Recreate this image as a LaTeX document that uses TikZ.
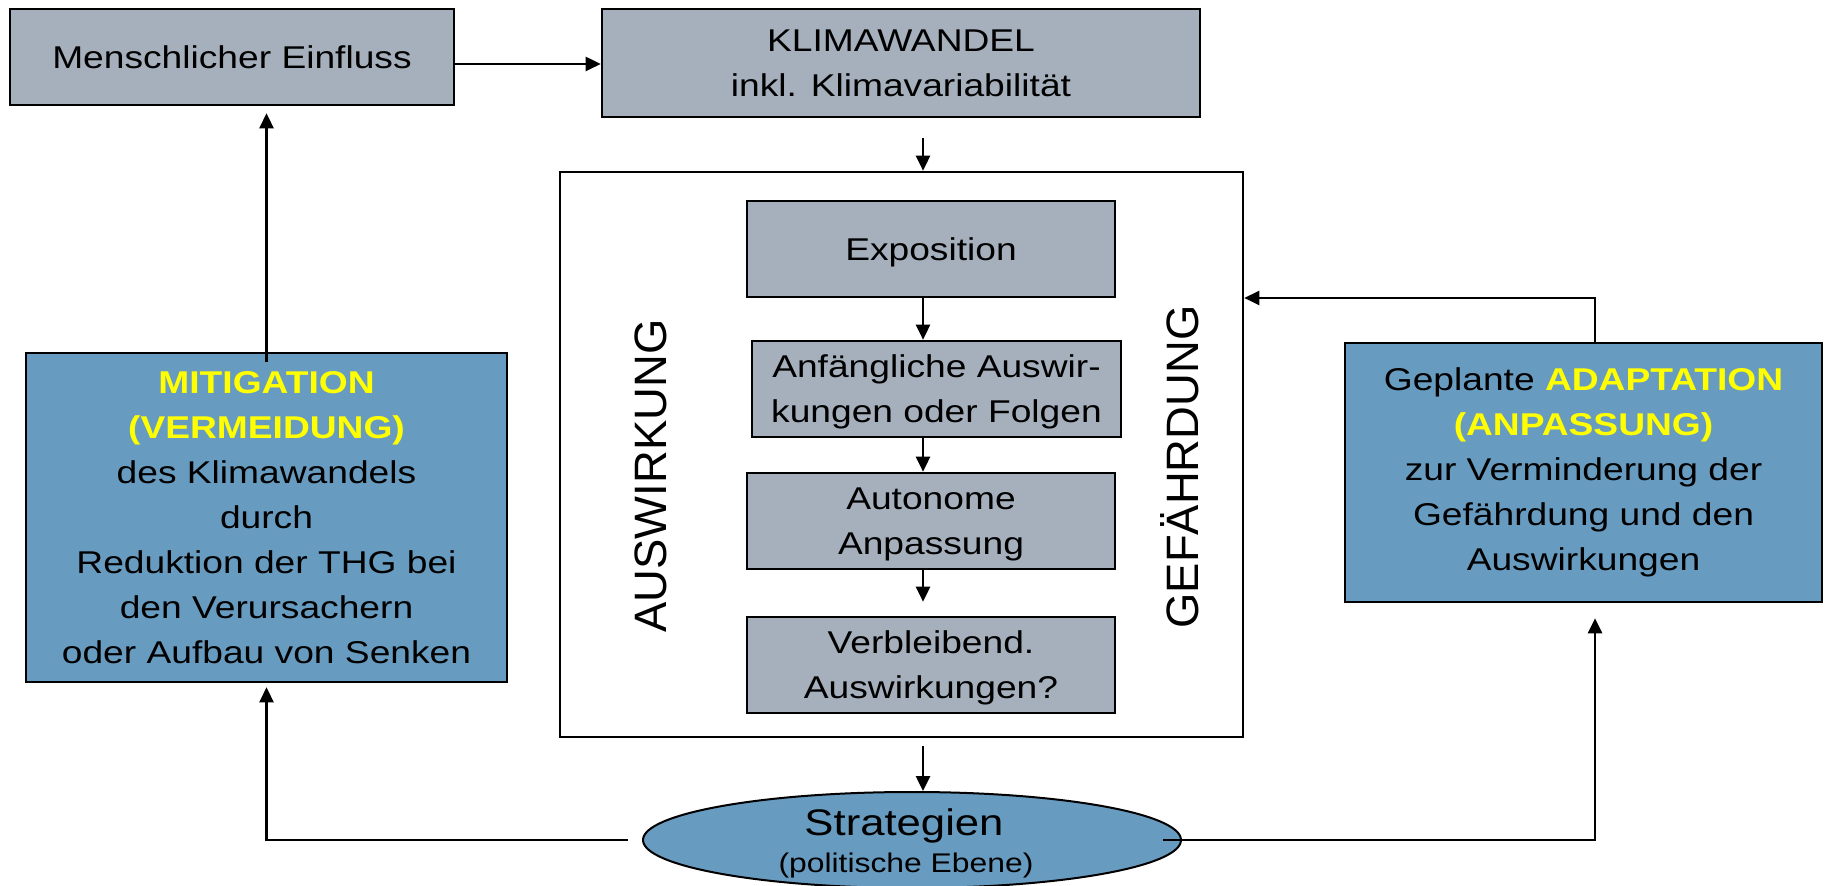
\documentclass[tikz,border=0pt]{standalone}
\usepackage{fontspec}
\setmainfont{Liberation Sans}[FakeStretch=1.18]
\newfontfamily\rotfont{Liberation Sans}
\usetikzlibrary{arrows.meta,shapes.geometric}
\definecolor{grayfill}{RGB}{166,176,189}
\definecolor{bluefill}{RGB}{104,155,192}
\definecolor{hl}{RGB}{255,255,0}
\newcommand{\hlb}[1]{\textcolor{hl}{\bfseries #1}}
\begin{document}
\begin{tikzpicture}[x=0.5pt,y=0.5pt,
  box/.style={draw=black, line width=1.3pt, inner sep=0pt, align=center, font=\fontsize{15.75}{22.5}\selectfont},
  graybox/.style={box, fill=grayfill, text depth=0pt},
  bluebox/.style={box, fill=bluefill},
  arr/.style={line width=1.3pt, -{Triangle[width=7pt,length=7.5pt]}},
  rot/.style={rotate=90, inner sep=0pt, font=\rotfont\fontsize{22.7}{27}\selectfont}
]
\useasboundingbox (0,0) rectangle (1825,-886);

% nodes
\node[graybox, minimum width=222pt, minimum height=48pt] (mensch) at (232,-57) {Menschlicher Einfluss};
\node[graybox, minimum width=299pt, minimum height=54pt] (klima) at (901,-63) {KLIMAWANDEL\\inkl. Klimavariabilit\"at};
\node[draw=black, fill=white, line width=1.3pt, minimum width=341.5pt, minimum height=282.5pt, inner sep=0pt] (outer) at (901.5,-454.5) {};
\node[graybox, minimum width=184pt, minimum height=48pt] (expo) at (931,-249) {Exposition};
\node[graybox, minimum width=184.5pt, minimum height=48pt] (anf) at (936.5,-389) {Anf\"angliche Auswir-\\kungen oder Folgen};
\node[graybox, minimum width=184pt, minimum height=48pt] (auto) at (931,-521) {Autonome\\Anpassung};
\node[graybox, minimum width=184pt, minimum height=48pt] (verb) at (931,-665) {Verbleibend.\\Auswirkungen?};
\node[rot] (ausw) at (651,-476) {AUSWIRKUNG};
\node[rot] (gef) at (1180,-467) {GEF\"AHRDUNG};
\node[bluebox, minimum width=240.5pt, minimum height=164.5pt] (mit) at (266.5,-517.5)
  {\hlb{MITIGATION}\\\hlb{(VERMEIDUNG)}\\des Klimawandels\\durch\\Reduktion der THG bei\\den Verursachern\\oder Aufbau von Senken};
\node[bluebox, minimum width=238.5pt, minimum height=129.5pt] (adapt) at (1583.5,-472.5)
  {Geplante \hlb{ADAPTATION}\\\hlb{(ANPASSUNG)}\\zur Verminderung der\\Gef\"ahrdung und den\\Auswirkungen};
\node[ellipse, draw=black, fill=bluefill, line width=1pt, minimum width=269pt, minimum height=48pt, inner sep=0pt] (ell) at (912,-840) {};
\node[anchor=base, inner sep=0pt, font=\fontsize{18.5}{22}\selectfont] (strat) at (904,-835) {Strategien};
\node[anchor=base, inner sep=0pt, font=\fontsize{13.5}{16}\selectfont] (pol) at (906,-872) {(politische Ebene)};

% helper coordinates
\coordinate (m1) at ([yshift=-3.5pt]mensch.east);
\coordinate (k1) at ([xshift=11pt]klima.south);
\coordinate (e1) at ([xshift=-4pt]expo.south);
\coordinate (a1) at ([xshift=-6.75pt]anf.south);
\coordinate (u1) at ([xshift=-4pt]auto.south);
\coordinate (o1) at ([xshift=10.75pt]outer.south);
\coordinate (ad1) at ([xshift=5.75pt]adapt.south);
\coordinate (ad2) at ([xshift=5.75pt]adapt.north);
\coordinate (o2) at ([yshift=78.25pt]outer.east);

% connectors
\draw[arr] (m1) -- (m1 -| klima.west);
\draw[arr, shorten <=10pt] (k1) -- (k1 |- outer.north);
\draw[arr] (e1) -- (e1 |- anf.north);
\draw[arr] (a1) -- (a1 |- auto.north);
\draw[arr, shorten >=7pt] (u1) -- (u1 |- verb.north);
\draw[arr, shorten <=4pt] (o1) -- (o1 |- ell.north);
\draw[arr, shorten <=-5pt, shorten >=3.5pt] (mit.north) -- (mit.north |- mensch.south);
\draw[arr, shorten <=7pt, shorten >=2pt] (ell.west) -| (mit.south);
\draw[arr, shorten <=-9.5pt, shorten >=7.5pt] (ell.east) -| (ad1);
\draw[arr] (ad2) |- (o2);
\end{tikzpicture}
\end{document}
